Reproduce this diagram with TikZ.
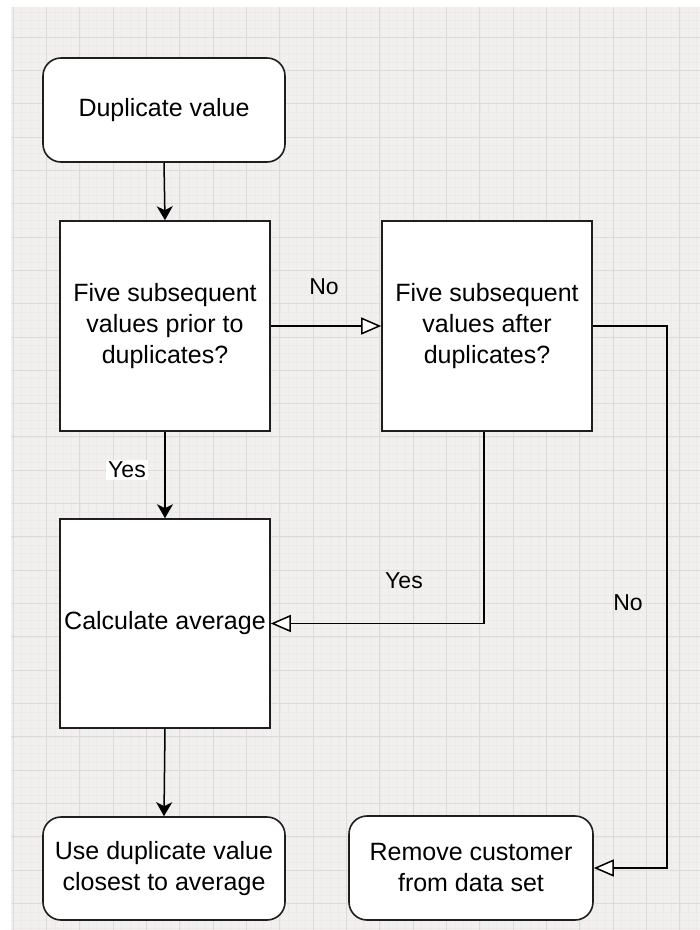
\documentclass[tikz,border=0pt]{standalone}
\usepackage{fontspec}
\setmainfont{Liberation Sans}
\usepackage{tikz}
\usetikzlibrary{arrows.meta}
\definecolor{gridbg}{RGB}{242,239,239}
\definecolor{gridminor}{RGB}{237,233,233}
\definecolor{gridmajor}{RGB}{222,218,218}
\definecolor{boxline}{RGB}{30,30,30}
\tikzstyle{box_round} = [rounded corners=18pt, draw=boxline, line width=1.6pt, fill=white, align=center, font=\fontsize{25}{31}\selectfont, minimum width=242pt, minimum height=104pt, inner sep=0pt]
\tikzstyle{box_square} = [rectangle, draw=boxline, line width=1.6pt, fill=white, align=center, font=\fontsize{25}{31}\selectfont, minimum width=210pt, minimum height=210pt, inner sep=0pt]
\tikzstyle{edge_solid} = [line width=1.5pt, -{Stealth[length=14pt, width=16pt, inset=4pt]}]
\tikzstyle{edge_open} = [line width=1.5pt, -{Triangle[open, length=20pt, width=17pt, fill=white]}]
\tikzstyle{edge_label} = [font=\fontsize{23}{27}\selectfont, inner sep=2pt]

\begin{document}
\begin{tikzpicture}[x=1pt, y=-1pt]
\useasboundingbox (0,0) rectangle (700,930);
% background grid
\fill[gridbg] (11,7) rectangle (700,930);
\foreach \k in {0,...,82} \draw[gridminor, line width=0.5pt] ({13.33+8.333*\k},7) -- ({13.33+8.333*\k},930);
\foreach \k in {1,...,111} \draw[gridminor, line width=0.5pt] (11,{3.7+8.333*\k}) -- (700,{3.7+8.333*\k});
\foreach \k in {0,...,20} \draw[gridmajor, line width=1pt] ({13.33+33.33*\k},7) -- ({13.33+33.33*\k},930);
\foreach \k in {1,...,27} \draw[gridmajor, line width=1pt] (11,{3.7+33.33*\k}) -- (700,{3.7+33.33*\k});

\node (dup) at (164,110) [box_round] {Duplicate value};
\node (prior) at (165,326) [box_square] {Five subsequent\\values prior to\\duplicates?};
\node (after) at (487,326) [box_square] {Five subsequent\\values after\\duplicates?};
\node (avg) at (165,623.5) [box_square, minimum height=209pt] {Calculate average};
\node (use) at (164,868.5) [box_round, minimum height=103pt] {Use duplicate value\\closest to average};
\node (remove) at (471,868) [box_round, minimum width=244pt] {Remove customer\\from data set};
\coordinate (turn) at (667,326);

\draw[edge_solid] (dup.south) -- (prior.north);
\draw[edge_open] (prior.east) -- (after.west);
\draw[edge_solid] (prior.south) -- (avg.north);
\draw[edge_open] ([xshift=-3pt]after.south) |- (avg.east);
\draw[edge_open] (after.east) -- (turn) |- (remove.east);
\draw[edge_solid] (avg.south) -- (use.north);

\node (no_top) at (324,287) [edge_label] {No};
\node (yes_left) at (127,470) [edge_label, fill=white] {Yes};
\node (yes_mid) at (404,581) [edge_label] {Yes};
\node (no_right) at (628,603) [edge_label] {No};
\end{tikzpicture}
\end{document}
